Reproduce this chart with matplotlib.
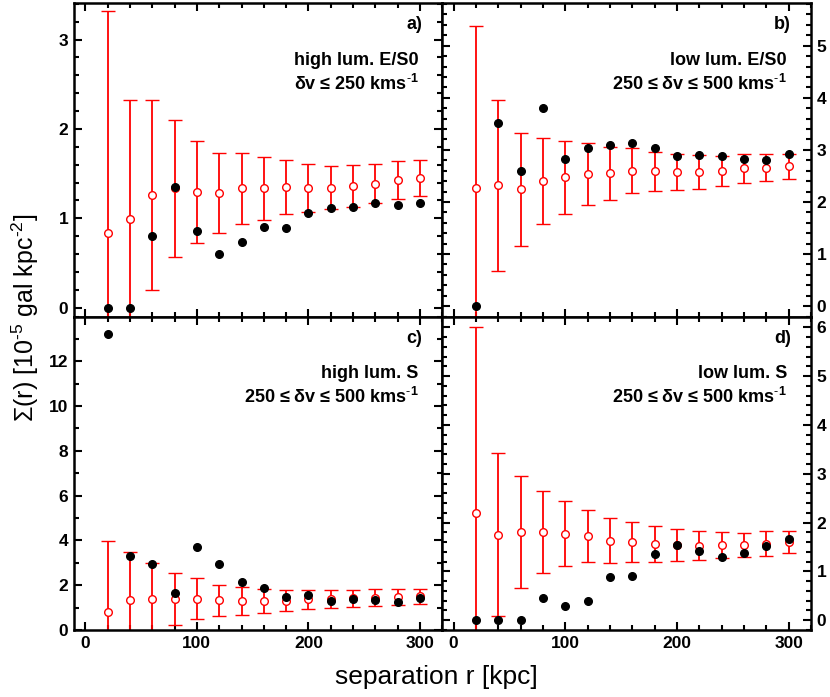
import matplotlib.pyplot as plt
from matplotlib.ticker import MultipleLocator, FixedLocator

plt.rcParams['font.family'] = ['Liberation Sans', 'DejaVu Sans']
plt.rcParams['mathtext.fontset'] = 'custom'
plt.rcParams['mathtext.rm'] = 'Liberation Sans'
plt.rcParams['mathtext.bf'] = 'Liberation Sans:bold'

# separation bins [kpc]
sep = [20, 40, 60, 80, 100, 120, 140, 160, 180, 200, 220, 240, 260, 280, 300]

# panel a) high lum. E/S0
a_obs = [0.0, 0.0, 0.80, 1.35, 0.86, 0.60, 0.735, 0.90, 0.89, 1.06, 1.115, 1.125, 1.17, 1.15, 1.175]
a_rand = [0.835, 0.996, 1.264, 1.335, 1.296, 1.284, 1.335, 1.335, 1.346, 1.34, 1.342, 1.359, 1.389, 1.428, 1.449]
a_err = [2.49, 1.327, 1.062, 0.768, 0.573, 0.446, 0.395, 0.35, 0.302, 0.27, 0.243, 0.233, 0.222, 0.216, 0.2]

# panel b) low lum. E/S0
b_obs = [0.0, 3.51, 2.60, 3.81, 2.83, 3.03, 3.10, 3.135, 3.03, 2.89, 2.90, 2.885, 2.83, 2.80, 2.92]
b_rand = [2.269, 2.317, 2.24, 2.40, 2.471, 2.535, 2.548, 2.60, 2.587, 2.574, 2.577, 2.60, 2.65, 2.654, 2.682]
b_err = [3.116, 1.645, 1.087, 0.83, 0.702, 0.593, 0.51, 0.43, 0.38, 0.343, 0.327, 0.29, 0.28, 0.257, 0.24]

# panel c) high lum. S
c_obs = [13.24, 3.30, 2.93, 1.645, 3.70, 2.93, 2.15, 1.87, 1.47, 1.57, 1.305, 1.39, 1.335, 1.26, 1.45]
c_rand = [0.817, 1.334, 1.393, 1.378, 1.393, 1.32, 1.30, 1.30, 1.305, 1.37, 1.386, 1.408, 1.445, 1.475, 1.497]
c_err = [3.18, 2.13, 1.58, 1.17, 0.918, 0.71, 0.61, 0.525, 0.473, 0.42, 0.39, 0.37, 0.377, 0.35, 0.325]

# panel d) low lum. S
d_obs = [0.0, 0.0, 0.0, 0.45, 0.286, 0.395, 0.886, 0.907, 1.357, 1.547, 1.411, 1.295, 1.384, 1.52, 1.663]
d_rand = [2.195, 1.752, 1.81, 1.813, 1.776, 1.725, 1.632, 1.598, 1.565, 1.54, 1.527, 1.544, 1.54, 1.571, 1.609]
d_err = [3.82, 1.67, 1.142, 0.838, 0.658, 0.525, 0.46, 0.405, 0.365, 0.327, 0.30, 0.27, 0.245, 0.25, 0.225]

# y tick labels per panel
a_ticks = [0, 1, 2, 3]
b_ticks = [0, 1, 2, 3, 4, 5]
c_ticks = [0, 2, 4, 6, 8, 10, 12]
d_ticks = [0, 1, 2, 3, 4, 5, 6]

kms = r'kms$^{\mathbf{\text{-}1}}$'
panels = [
    ('a)', 'high lum. E/S0', '\u03b4v \u2264 250 ' + kms, a_obs, a_rand, a_err, (-0.1, 3.41), a_ticks, 0.2),
    ('b)', 'low lum. E/S0', '250 \u2264 \u03b4v \u2264 500 ' + kms, b_obs, b_rand, b_err, (-0.2, 5.82), b_ticks, 0.2),
    ('c)', 'high lum. S', '250 \u2264 \u03b4v \u2264 500 ' + kms, c_obs, c_rand, c_err, (0, 14), c_ticks, 1),
    ('d)', 'low lum. S', '250 \u2264 \u03b4v \u2264 500 ' + kms, d_obs, d_rand, d_err, (-0.2, 6.22), d_ticks, 0.2),
]

fig, axes = plt.subplots(2, 2, figsize=(8.30, 6.97), dpi=100)
fig.subplots_adjust(left=0.0892, right=0.977, top=0.9957, bottom=0.0961,
                    hspace=0, wspace=0)

for i, (ax, p) in enumerate(zip(axes.flat, panels)):
    tag, name, dv, obs, rand, err, ylim, yticks, minor = p
    ax.errorbar(sep, rand, yerr=err, fmt='o', color='red', ecolor='red',
                mfc='white', mec='red', ms=5.5, mew=1.0, elinewidth=1.3,
                capsize=5, capthick=1.6, zorder=2)
    ax.plot(sep, obs, 'o', color='black', ms=5.5, zorder=3)
    ax.set_xlim(-10, 320)
    ax.set_ylim(*ylim)
    ax.xaxis.set_major_locator(MultipleLocator(100))
    ax.xaxis.set_minor_locator(MultipleLocator(20))
    ax.yaxis.set_major_locator(FixedLocator(yticks))
    ax.yaxis.set_minor_locator(MultipleLocator(minor))
    right = (i % 2 == 1)
    bottom = (i >= 2)
    ax.tick_params(which='both', direction='in', top=True, bottom=True,
                   left=True, right=True, labelleft=not right,
                   labelright=right, labelbottom=bottom, width=1.5,
                   labelsize=12.5, pad=4)
    ax.tick_params(which='major', length=6)
    ax.tick_params(which='minor', length=3.5)
    for lab in ax.get_xticklabels() + ax.get_yticklabels():
        lab.set_fontweight('bold')
    for s in ax.spines.values():
        s.set_linewidth(1.8)
    ax.text(0.945, 0.93, tag, transform=ax.transAxes, ha='right', va='center',
            fontsize=13, fontweight='bold')
    ax.text(0.935, 0.818, name, transform=ax.transAxes, ha='right',
            va='center', fontsize=13, fontweight='bold')
    ax.text(0.935, 0.742, dv, transform=ax.transAxes, ha='right',
            va='center', fontsize=13, fontweight='bold')

fig.text(0.030, 0.5445, r'$\Sigma$(r) [10$^{\text{-5}}$ gal kpc$^{\text{-2}}$]',
         rotation=90, ha='center', va='center', fontsize=18)
fig.text(0.526, 0.029, 'separation r [kpc]', ha='center', va='center',
         fontsize=19)

fig.savefig('out.png', dpi=100)
